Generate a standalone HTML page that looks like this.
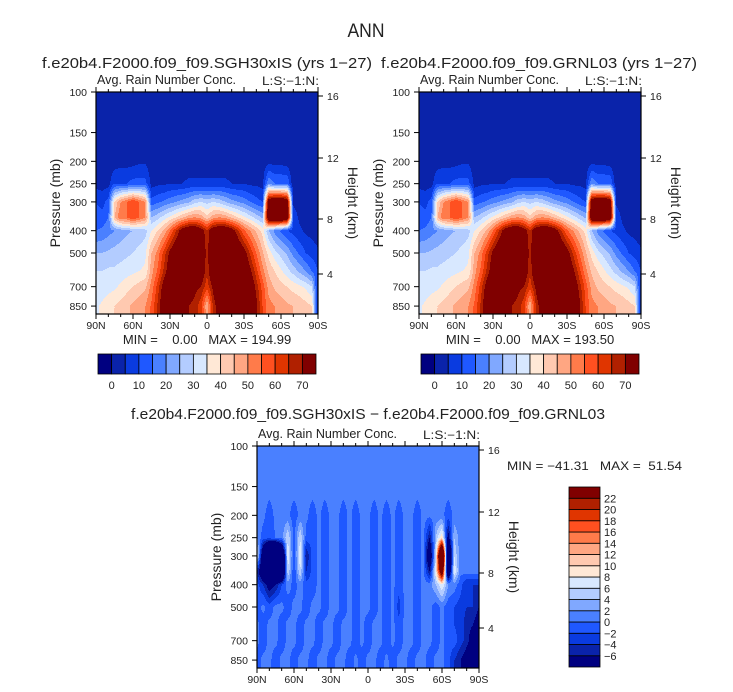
<!DOCTYPE html>
<html><head><meta charset="utf-8"><style>
html,body{margin:0;padding:0;background:#fff;}
svg{display:block;font-family:"Liberation Sans",sans-serif;}
text{fill:#222;}
</style></head><body>
<svg id="chart" width="733" height="692" viewBox="0 0 733 692" xmlns="http://www.w3.org/2000/svg">
<text x="366" y="37" font-size="19" text-anchor="middle" textLength="37" lengthAdjust="spacingAndGlyphs">ANN</text>
<text x="42" y="68" font-size="15" textLength="330" lengthAdjust="spacingAndGlyphs">f.e20b4.F2000.f09_f09.SGH30xIS (yrs 1−27)</text>
<text x="381" y="68" font-size="15" textLength="316" lengthAdjust="spacingAndGlyphs">f.e20b4.F2000.f09_f09.GRNL03 (yrs 1−27)</text>
<text x="131" y="419" font-size="15" textLength="474" lengthAdjust="spacingAndGlyphs">f.e20b4.F2000.f09_f09.SGH30xIS − f.e20b4.F2000.f09_f09.GRNL03</text>
<g id="panels"></g>
</svg>
<script>
const levels=[100,150,200,250,300,350,400,500,600,700,850,920];
const latLabels=['90N','60N','30N','0','30S','60S','90S'];
const pTicks=[100,150,200,250,300,400,500,700,850];
const hTicks=['16','12','8','4'];
const topLevelLabels=['0','10','20','30','40','50','60','70'];
const diffLevelLabels=['22','20','18','16','14','12','10','8','6','4','2','0','−2','−4','−6'];
const palette=['#000080','#0a23aa','#0a3be0','#1f58ff','#4a80ff','#80a8ff','#b3ccff','#d8e8ff','#ffe8d6','#ffc9b0','#ffa682','#ff7b4a','#ff5020','#e03500','#b02000','#800000'];
// mean field (rows = levels, cols = 90N..90S every 5 deg)
const meanField=[
[2,2,2,2,2,2,2,2,2,2,2,2,2,2,2,2,2,2,2,2,2,2,2,2,2,2,2,2,1,1,1,1,1,1,1,1,1],
[2,2,2,2,2,2,2,2,2,2,2,2,2,2,2,2,2,2,2,2,2,2,2,2,2,2,2,2,1,1,1,1,1,1,1,1,1],
[2,2,2,2,3,3,3,4,4,2,2,2,2,2,2,2,2,2,2,2,2,2,2,2,2,2,2,2,3,3,3,2,1,1,1,1,1],
[3,3,3,10,10,10,12,12,12,3,4,4,5,5,5,6,6,6,6,6,6,6,5,5,5,4,4,3,20,15,15,15,1,1,1,1,1],
[10,8,12,40,50,55,60,55,50,12,14,16,18,20,22,24,28,30,28,30,28,25,22,20,18,15,12,10,80,85,85,80,4,2,2,1,1],
[12,12,15,45,55,55,60,55,50,25,28,32,36,40,44,48,50,48,42,48,50,48,44,40,36,32,28,24,85,90,90,85,8,4,3,2,1],
[15,16,18,20,22,24,25,26,28,35,40,46,55,65,75,80,80,75,66,78,80,80,75,66,56,50,44,38,25,18,14,10,8,6,4,3,2],
[25,25,26,27,28,29,30,32,34,45,52,62,72,80,80,80,80,78,68,80,80,80,80,80,74,64,55,46,38,32,28,24,18,14,10,8,6],
[30,30,31,31,32,33,34,35,36,48,56,66,76,80,80,80,80,78,66,80,80,80,80,80,80,72,62,52,44,40,36,32,28,24,20,15,10],
[32,32,33,34,36,38,40,42,44,52,62,74,80,80,80,76,72,70,62,72,80,80,80,80,80,78,68,58,48,44,42,40,38,36,34,30,5],
[34,36,38,40,42,44,46,48,50,56,66,78,80,80,75,70,68,62,45,66,76,80,80,80,80,80,72,60,52,50,48,46,45,44,42,40,5],
[34,36,38,40,42,44,46,48,50,56,66,78,80,80,75,70,68,62,48,66,76,80,80,80,80,80,72,60,52,50,48,46,45,44,42,40,5]];
// difference field
const diffField=[
[1,1,1,1,1,1,1,1,1,1,1,1,1,1,1,1,1,1,1,1,1,1,1,1,1,1,1,1,1,1,1,1,1,1,1,1,1],
[1,1,1,1,1,1,1,1,1,1,1,1,1,1,1,1,1,1,1,1,1,1,1,1,1,1,1,1,1,1,1,1,1,1,1,1,1],
[0.6,0.6,-1.2,0.6,0.6,0.6,-1.2,0.6,0.6,-1.2,0.6,-1.2,0.6,0.6,-1.2,0.6,-1.2,0.6,0.6,-1.2,0.6,-1.2,0.6,-1.2,0.6,0.6,-1.2,0.6,0.6,0.6,0.6,-1.2,0.6,0.6,1,1,1],
[2,-1,-1,0,1,6,-1,6,-1,-1.2,0.6,-1.2,0.6,0.6,-1.2,0.6,-1.2,0.6,0.6,-1.2,0.6,-1.2,0.6,-1.2,0.6,0.6,-1.2,0.6,-6,4,10,-8,4,0.6,1,1,1],
[8,-12,-30,-30,-20,8,-2,8,-6,-1.2,0.6,-1.2,0.6,0.6,-1.2,0.6,-1.2,0.6,0.6,-1.2,0.6,-1.2,0.6,-1.2,0.6,0.6,-1.2,0.6,-12,6,45,-20,6,0.6,1,1,1],
[-4,-12,-30,-30,-20,6,-2,6,-4,-1.2,0.6,-1.2,0.6,0.6,-1.2,0.6,-1.2,0.6,0.6,-1.2,0.6,-1.2,0.6,-1.2,0.6,0.6,-1.2,0.6,-6,8,30,-15,8,0.6,1,1,1],
[-1,-4,-8,-6,-2,1,-1,1,-1.2,-1.2,0.6,-1.2,0.6,0.6,-1.2,0.6,-1.2,0.6,0.6,-1.2,0.6,-1.2,0.6,-1.2,0.6,0.6,-1.2,0.6,1,4,8,2,1,-1.2,-4,-4,-4],
[-1.2,0.6,-1.2,0.6,0.6,-1.2,0.6,0.6,-1.2,0.6,0.6,-1.2,0.6,0.6,-1.2,0.6,-1.2,0.6,0.6,-1.2,0.6,-1.2,0.6,-3,0.6,0.6,-1.2,0.6,0.6,-1.2,0.6,-1.2,-2,-3,-4,-4,-6],
[0.6,-1.2,0.6,0.6,-1.2,0.6,0.6,-1.2,0.6,0.6,-1.2,0.6,0.6,-1.2,0.6,0.6,-1.2,0.6,-1.2,0.6,0.6,-1.2,0.6,-1.2,0.6,0.6,-1.2,0.6,0.6,-1.2,0.6,-1.2,-2,-3,-5,-6,-8],
[0.6,-1.2,0.6,0.6,-1.2,0.6,0.6,-1.2,0.6,0.6,-1.2,0.6,0.6,-1.2,0.6,0.6,-1.2,0.6,-1.2,0.6,0.6,-1.2,0.6,-1.2,0.6,0.6,-1.2,0.6,0.6,-1.2,0.6,-1.2,-1,-3,-5,-8,-8],
[-1.2,0.6,0.6,-1.2,0.6,0.6,-1.2,0.6,0.6,-1.2,0.6,0.6,-1.2,0.6,0.6,-1.2,0.6,-1.2,0.6,0.6,-1.2,0.6,-1.2,0.6,0.6,-1.2,0.6,0.6,-1.2,0.6,0.6,-1.2,-4,-6,-8,-8,-8],
[-1.2,0.6,0.6,-1.2,0.6,0.6,-1.2,0.6,0.6,-1.2,0.6,0.6,-1.2,0.6,0.6,-1.2,0.6,-1.2,0.6,0.6,-1.2,0.6,-1.2,0.6,0.6,-1.2,0.6,0.6,-1.2,0.6,0.6,-1.2,-4,-6,-8,-8,-8]];

const NS='http://www.w3.org/2000/svg';
const root=document.getElementById('panels');
function mk(tag,attrs,parent){const e=document.createElementNS(NS,tag);for(const k in attrs)e.setAttribute(k,attrs[k]);(parent||root).appendChild(e);return e;}
const PH=222,PW=222,lnMax=Math.log(9.2);
function yOfP(p,y0){return y0+Math.log(p/100)/lnMax*PH;}
function meanIdx(v){return v<0?0:Math.min(15,Math.floor(v/5)+1);}
function diffIdx(v){return v<-6?0:Math.min(15,Math.floor((v+6)/2)+1);}
function sample(grid,fx,p){
  const lp=Math.log(p);let j=0;
  while(j<levels.length-2&&Math.log(levels[j+1])<lp)j++;
  const l0=Math.log(levels[j]),l1=Math.log(levels[j+1]);
  let t=(lp-l0)/(l1-l0);t=Math.max(0,Math.min(1,t));
  const i=Math.min(35,Math.floor(fx));const s=fx-i;
  const a=grid[j][i]*(1-s)+grid[j][i+1]*s;
  const b=grid[j+1][i]*(1-s)+grid[j+1][i+1]*s;
  return a*(1-t)+b*t;
}
function drawField(g,grid,x0,y0,idxFn){
  for(let py=0;py<PH;py++){
    const p=100*Math.exp((py+0.5)/PH*lnMax);
    let runStart=0,runC=-1;
    for(let px=0;px<=PW;px++){
      let c=-1;
      if(px<PW)c=idxFn(sample(grid,(px+0.5)/PW*36,p));
      if(c!==runC){
        if(runC>=0){const r=mk('rect',{x:x0+runStart,y:y0+py,width:px-runStart,height:1.05,fill:palette[runC]},g);
          
          }
        runStart=px;runC=c;
      }
    }
  }
}
function drawAxes(g,x0,y0){
  mk('rect',{x:x0,y:y0,width:PW,height:PH,fill:'none',stroke:'#000','stroke-width':1.2},g);
  for(let k=0;k<=18;k++){
    const x=x0+k/18*PW;const len=(k%3===0)?5:3;
    mk('line',{x1:x,y1:y0+PH,x2:x,y2:y0+PH+len,stroke:'#000','stroke-width':1},g);
    mk('line',{x1:x,y1:y0,x2:x,y2:y0-len,stroke:'#000','stroke-width':1},g);
  }
  latLabels.forEach((l,i)=>{const t=mk('text',{x:x0+i/6*PW,y:y0+PH+15,'font-size':10.5,'text-anchor':'middle'},g);t.textContent=l;
    });
  pTicks.forEach(p=>{const y=yOfP(p,y0);
    mk('line',{x1:x0,y1:y,x2:x0-5,y2:y,stroke:'#000','stroke-width':1},g);
    const t=mk('text',{x:x0-9,y:y+4,'font-size':10.5,'text-anchor':'end'},g);t.textContent=p;
    });
  const hy=[4,66,127,182];
  hTicks.forEach((h,i)=>{const y=y0+hy[i];
    mk('line',{x1:x0+PW,y1:y,x2:x0+PW+5,y2:y,stroke:'#000','stroke-width':1},g);
    const t=mk('text',{x:x0+PW+9,y:y+4,'font-size':10.5},g);t.textContent=h;
    });
  let t=mk('text',{x:x0+1,y:y0-8,'font-size':12.5,textLength:139,lengthAdjust:'spacingAndGlyphs'},g);t.textContent='Avg. Rain Number Conc.';
  
  t=mk('text',{x:x0+166,y:y0-7,'font-size':11.5,textLength:57,lengthAdjust:'spacingAndGlyphs'},g);t.textContent='L:S:−1:N:';
  
  t=mk('text',{x:0,y:0,'font-size':14,'text-anchor':'middle',transform:`translate(${x0-36},${y0+PH/2}) rotate(-90)`},g);t.textContent='Pressure (mb)';
  
  t=mk('text',{x:0,y:0,'font-size':14,'text-anchor':'middle',transform:`translate(${x0+PW+30},${y0+PH/2}) rotate(90)`},g);t.textContent='Height (km)';
  
}
function topPanel(x0,y0,name,maxTxt){
  const g=mk('g',{});
  
  
  drawField(g,meanField,x0,y0,meanIdx);
  drawAxes(g,x0,y0);
  let t=mk('text',{x:x0+PW/2,y:y0+PH+30,'font-size':13,'text-anchor':'middle'},g);t.textContent='MIN =    0.00   MAX = '+maxTxt;
  
  t.setAttribute('xml:space','preserve');t.style.whiteSpace='pre';
  const cb=mk('g',{},g);
  const cx=x0+2,cy=354,bw=218/16;
  palette.forEach((c,i)=>{const r=mk('rect',{x:cx+i*bw,y:cy,width:bw,height:20,fill:c,stroke:'#000','stroke-width':0.8},cb);
    });
  topLevelLabels.forEach((l,i)=>{const t2=mk('text',{x:cx+(2*i+1)*bw,y:389,'font-size':11,'text-anchor':'middle'},cb);t2.textContent=l;
    });
}
topPanel(96,92,'left-panel','194.99');
topPanel(419,92,'right-panel','193.50');
(function(){
  const x0=257,y0=446;
  const g=mk('g',{});
  
  
  drawField(g,diffField,x0,y0,diffIdx);
  drawAxes(g,x0,y0);
  let t=mk('text',{x:507,y:470,'font-size':12,textLength:175,lengthAdjust:'spacingAndGlyphs'},g);t.textContent='MIN = −41.31   MAX =  51.54';
  
  t.setAttribute('xml:space','preserve');t.style.whiteSpace='pre';
  const cb=mk('g',{},g);
  const cx=569,cy=487,bh=180/16;
  palette.forEach((c,i)=>{const r=mk('rect',{x:cx,y:cy+(15-i)*bh,width:31,height:bh,fill:c,stroke:'#000','stroke-width':0.8},cb);
    });
  diffLevelLabels.forEach((l,i)=>{const t2=mk('text',{x:604,y:cy+(i+1)*bh+4,'font-size':11},cb);t2.textContent=l;
    });
})();
</script>
</body></html>
